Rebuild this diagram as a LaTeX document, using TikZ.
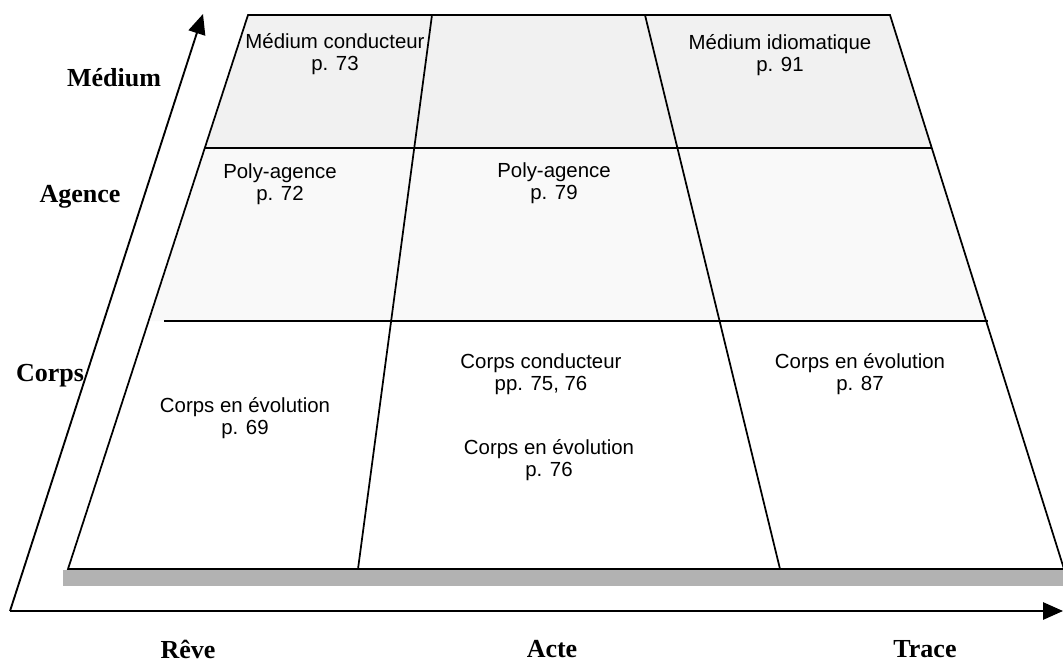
\documentclass[tikz,border=0pt]{standalone}
\usepackage{fontspec}
\setmainfont{Liberation Serif}
\setsansfont{Liberation Sans}
\usetikzlibrary{arrows.meta}

\begin{document}
\begin{tikzpicture}[x=0.75pt,y=0.75pt,yscale=-1,xscale=1,
  cell/.style={font=\sffamily\fontsize{15.3}{16.5}\selectfont,align=center,inner sep=0.75pt},
  axislabel/.style={font=\bfseries\fontsize{19.5}{21}\selectfont,inner sep=0.75pt},
  rule/.style={line width=1.3pt},
  axis/.style={line width=1.4pt,-{Triangle[length=15pt,width=13pt]}}]
\useasboundingbox (0,0) rectangle (1063,667);
% frame corners and axes
\coordinate (tl) at (248,15);
\coordinate (tr) at (890,15);
\coordinate (br) at (1064,569);
\coordinate (bl) at (68,569);
\coordinate (o) at (10,611);
\coordinate (ytip) at (203,14);
\coordinate (xtip) at (1063,611);
% shaded rows
\fill[gray!11] (tl) -- (tr) -- (932,148) -- (205,148) -- cycle;
\fill[gray!5] (205,148) -- (932,148) -- (988,321) -- (148,321) -- cycle;
% ground band
\fill[gray!60] (63,570) rectangle (1063,586);
% grid
\draw[rule] (tl) -- (tr) -- (br) -- (bl) -- cycle;
\draw[rule] (432,15) -- (358,569);
\draw[rule] (645,15) -- (780,569);
\draw[rule] (205,148) -- (932,148);
\draw[rule] (164,321) -- (988,321);
% axes
\draw[axis] (o) -- (ytip);
\draw[axis] (o) -- (xtip);
% cells
\node[cell] (medcond) at (335,54) {Médium conducteur\\p. 73};
\node[cell] (medidio) at (780,55) {Médium idiomatique\\p. 91};
\node[cell] (polya) at (280,184) {Poly-agence\\p. 72};
\node[cell] (polyb) at (554,183) {Poly-agence\\p. 79};
\node[cell] (corpsevoa) at (245,418) {Corps en évolution\\p. 69};
\node[cell] (corpscond) at (541,374) {Corps conducteur\\pp. 75, 76};
\node[cell] (corpsevob) at (549,460) {Corps en évolution\\p. 76};
\node[cell] (corpsevoc) at (860,374) {Corps en évolution\\p. 87};
% axis labels
\node[axislabel] (medium) at (114,78) {Médium};
\node[axislabel] (agence) at (80,197) {Agence};
\node[axislabel] (corps) at (50,376) {Corps};
\node[axislabel] (reve) at (188,649) {Rêve};
\node[axislabel] (acte) at (552,649) {Acte};
\node[axislabel] (trace) at (925,649) {Trace};
\end{tikzpicture}
\end{document}
